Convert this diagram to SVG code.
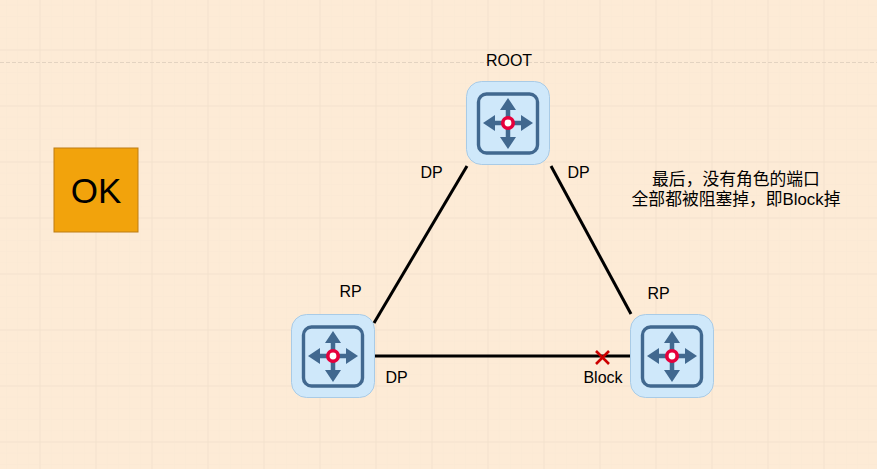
<svg xmlns="http://www.w3.org/2000/svg" width="877" height="469" viewBox="0 0 877 469">
<style>
text{font-family:"Liberation Sans","Noto Sans CJK SC",sans-serif;font-size:16px;fill:#000;text-anchor:middle}
.cjk{font-size:16.800px}
.bg{fill:#cfe8fa;stroke:#a9cbe6;stroke-width:1}
.fr{fill:none;stroke:#41688f;stroke-width:3.400}
.ar{fill:#41688f}
.sh{stroke:#41688f;stroke-width:4.500}
.dot{fill:#fff;stroke:#e6003c;stroke-width:3.600}
.c{stroke:#000;stroke-width:3;fill:none}
</style>
<defs>
<pattern id="gm" width="11.2" height="11.2" patternUnits="userSpaceOnUse" x="5.9" y="4.7">
<path d="M0 0H11.2M0 0V11.2" fill="none" stroke="#f9e8d4" stroke-width="1"/>
</pattern>
<pattern id="gM" width="56" height="56" patternUnits="userSpaceOnUse" x="39.5" y="49.5">
<path d="M0 0H56M0 0V56" fill="none" stroke="#eddcc8" stroke-width="1"/>
</pattern>
<g id="sw">
<rect class="bg" x="0.500" y="0.500" width="83" height="83" rx="15"/>
<rect class="fr" x="12.500" y="13" width="59" height="59" rx="8"/>
<path class="sh" d="M42 27V57M27 42H57"/>
<path class="ar" d="M42 17L50 29H34ZM42 68L34 56H50ZM17 42L29 34V50ZM67 42L55 50V34Z"/>
<circle class="dot" cx="42" cy="42" r="5.200"/>
</g>
</defs>
<rect width="877" height="469" fill="#fdebd6"/>
<rect width="877" height="469" fill="url(#gm)"/>
<rect width="877" height="469" fill="url(#gM)"/>
<line x1="0" y1="62.500" x2="877" y2="62.500" stroke="#e3d3c1" stroke-width="1" stroke-dasharray="4 2"/>
<g id="connectors">
<line class="c" x1="467" y1="166" x2="374" y2="323"/>
<line class="c" x1="551" y1="166" x2="631" y2="314"/>
<line class="c" x1="375" y1="356" x2="630" y2="356"/>
</g>
<g id="ok"><rect x="54" y="148" width="84" height="84" fill="#f2a30c" stroke="#bd7d12" stroke-width="1"/><text x="96" y="203" style="font-size:35px">OK</text></g>
<g id="root"><use href="#sw" x="466" y="81"/><text x="509" y="66">ROOT</text></g>
<g id="left"><use href="#sw" x="291" y="314"/></g>
<g id="right"><use href="#sw" x="630" y="314"/></g>
<g id="block"><path d="M596 351L609 364M609 351L596 364" stroke="#cc0000" stroke-width="2.600" fill="none"/><text x="603" y="383">Block</text></g>
<g id="labels">
<text x="431.500" y="178">DP</text>
<text x="578.500" y="178">DP</text>
<text x="350.500" y="297">RP</text>
<text x="658.500" y="299">RP</text>
<text x="396.500" y="383">DP</text>
<text class="cjk" x="736" y="185">最后，没有角色的端口</text>
<text class="cjk" x="736" y="205">全部都被阻塞掉，即Block掉</text>
</g>
</svg>
